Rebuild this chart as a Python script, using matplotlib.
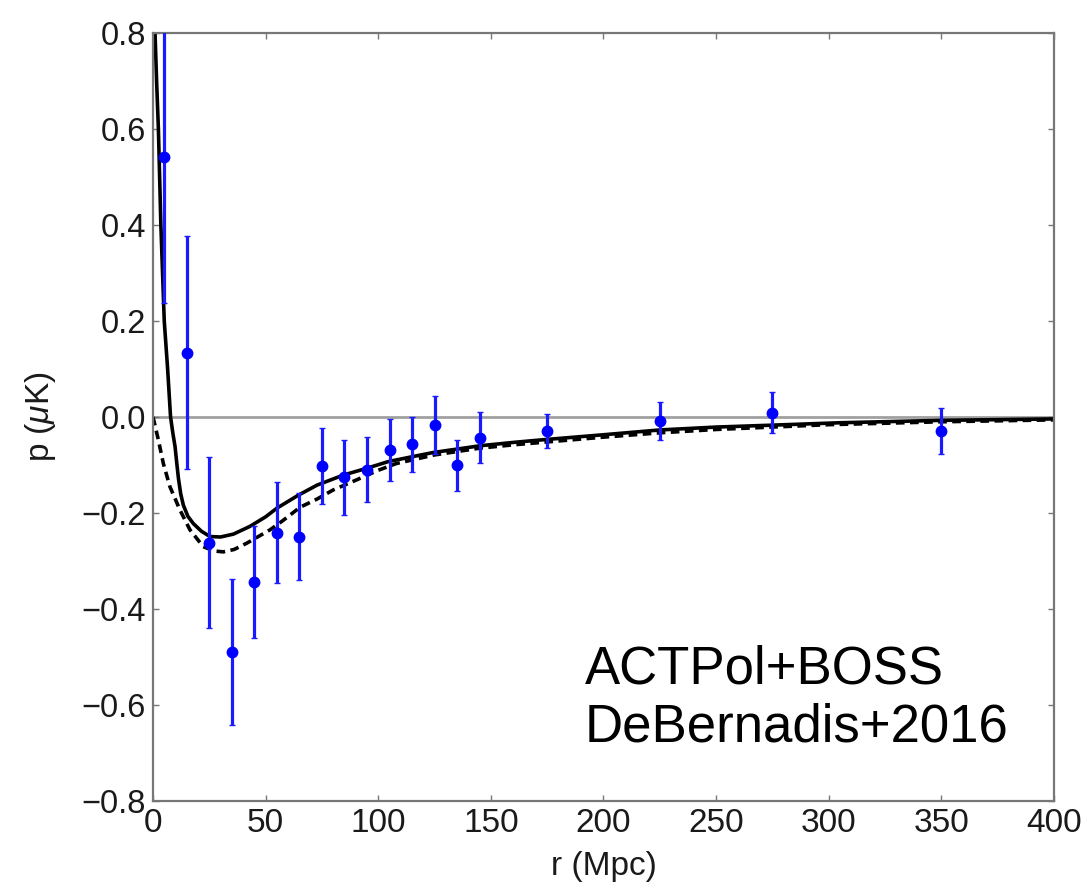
import matplotlib
matplotlib.use("Agg")
import matplotlib.pyplot as plt

plt.rcParams['font.family'] = ['Liberation Sans', 'DejaVu Sans']
plt.rcParams['mathtext.fontset'] = 'custom'
plt.rcParams['mathtext.it'] = 'Liberation Sans:italic'
plt.rcParams['mathtext.rm'] = 'Liberation Sans'

# Data points (ACTPol+BOSS pairwise momentum)
r_data = [5, 15, 25, 35, 45, 55, 65, 75, 85, 95, 105, 115, 125, 135, 145, 175, 225, 275, 350]
p_data = [0.542, 0.134, -0.262, -0.489, -0.344, -0.241, -0.249, -0.102, -0.126, -0.110,
          -0.069, -0.057, -0.017, -0.101, -0.043, -0.029, -0.008, 0.009, -0.029]
p_err = [0.305, 0.242, 0.178, 0.152, 0.116, 0.105, 0.091, 0.080, 0.078, 0.068,
         0.064, 0.057, 0.060, 0.054, 0.053, 0.036, 0.039, 0.043, 0.048]

# Solid model curve
r_solid = [0.9, 1.6, 2.4, 3.5, 5.0, 6.5, 7.8, 8.8, 9.8, 10.6, 11.3, 12.3, 13.5, 15.5, 17.9,
           21.5, 25.3, 30, 35.7, 43, 50, 55, 64.5, 72.8, 84.5, 94.8, 104.4, 114.8, 124.4,
           134.8, 145.1, 159.9, 171.7, 200, 225, 250, 275, 305, 350, 400]
p_solid = [0.80, 0.70, 0.60, 0.40, 0.20, 0.10, 0.0, -0.033, -0.062, -0.098, -0.128, -0.160,
           -0.184, -0.207, -0.222, -0.238, -0.249, -0.250, -0.244, -0.228, -0.208, -0.190,
           -0.163, -0.142, -0.121, -0.107, -0.093, -0.083, -0.074, -0.067, -0.060, -0.053,
           -0.048, -0.037, -0.027, -0.021, -0.017, -0.012, -0.007, -0.004]

# Dashed model curve
r_dash = [0, 2.4, 4.6, 7.5, 12, 16.4, 22.3, 27, 31.2, 36, 41.6, 52, 57.9, 65.3, 72.8, 80,
          90.4, 100, 108, 125, 145, 160, 175, 200, 225, 250, 275, 300, 350, 400]
p_dash = [0.0, -0.048, -0.097, -0.145, -0.194, -0.235, -0.270, -0.279, -0.281, -0.276,
          -0.263, -0.235, -0.215, -0.188, -0.171, -0.152, -0.131, -0.111, -0.097, -0.079,
          -0.065, -0.058, -0.052, -0.042, -0.033, -0.026, -0.021, -0.016, -0.010, -0.006]

x_ticks = [0, 50, 100, 150, 200, 250, 300, 350, 400]
y_ticks = [-0.8, -0.6, -0.4, -0.2, 0.0, 0.2, 0.4, 0.6, 0.8]

fig = plt.figure(figsize=(10.92, 8.91), dpi=100)
ax = fig.add_axes([0.1401, 0.1010, 0.8251, 0.8620])

ax.axhline(0, color='#a0a0a0', lw=2.0, zorder=1)
ax.plot(r_solid, p_solid, color='black', lw=2.6, zorder=2, solid_joinstyle='round')
ax.plot(r_dash, p_dash, color='black', lw=2.6, linestyle=(0, (2.4, 1.5)), zorder=2)
ax.errorbar(r_data, p_data, yerr=p_err, fmt='o', color='#0000ff', ecolor='#1a1aff',
            elinewidth=2.3, capsize=2.5, capthick=1.0, markersize=7.5, zorder=3)

ax.set_xlim(0, 400)
ax.set_ylim(-0.8, 0.8)
ax.set_xticks(x_ticks)
ax.set_yticks(y_ticks)
ax.set_yticklabels([f"{v:.1f}".replace('-', '\u2212') for v in y_ticks])

ax.tick_params(direction='in', top=True, right=True, length=4, width=1,
               color='#777777', labelcolor='#1a1a1a')
ax.tick_params(axis='x', labelsize=24, pad=5)
ax.tick_params(axis='y', labelsize=23.5, pad=5)
for s in ax.spines.values():
    s.set_color('#777777')
    s.set_linewidth(1.6)

ax.set_xlabel('r (Mpc)', fontsize=24, color='#1a1a1a', labelpad=9)
ax.set_ylabel(r'p ($\mu$K)', fontsize=24, color='#1a1a1a', labelpad=17)

ax.text(191.8, -0.555, 'ACTPol+BOSS', fontsize=38, color='black', va='baseline', ha='left')
ax.text(191.8, -0.6765, 'DeBernadis+2016', fontsize=38, color='black', va='baseline', ha='left')

fig.savefig('out.png', dpi=100)
